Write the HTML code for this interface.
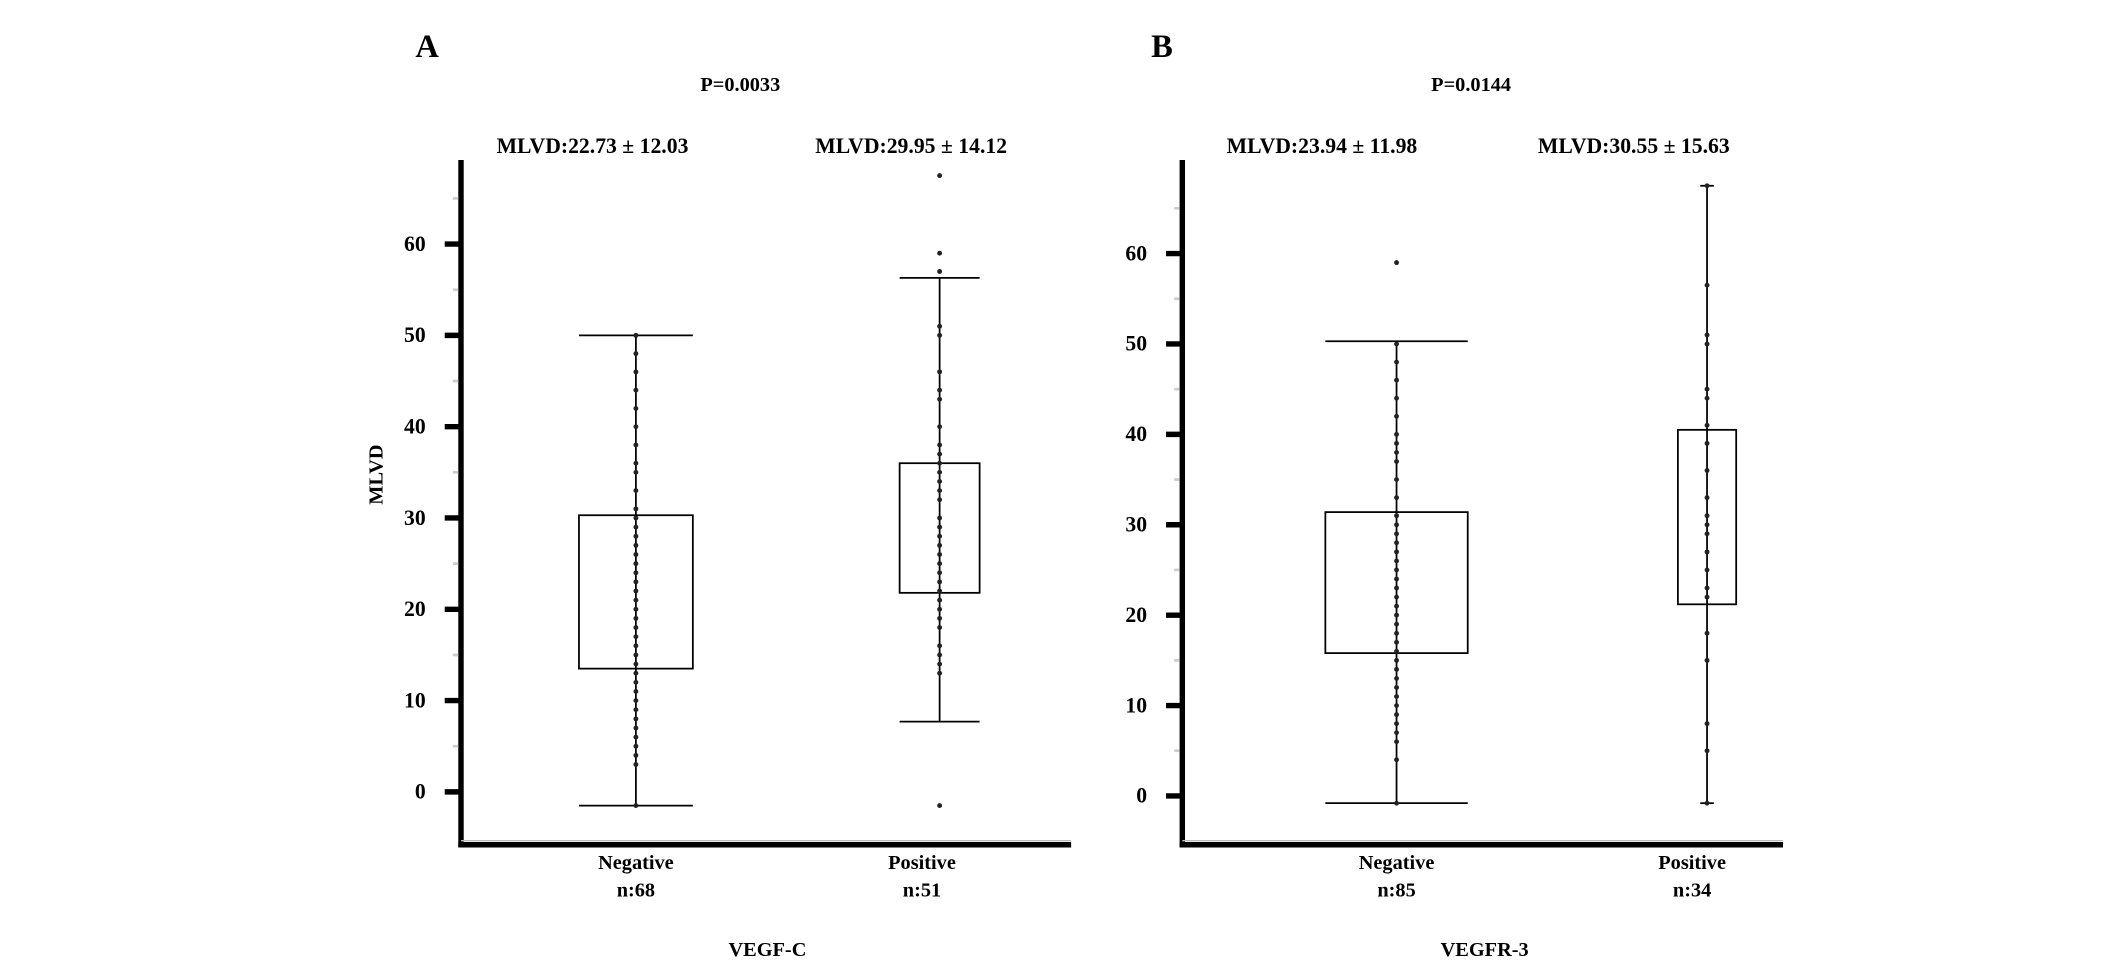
<!DOCTYPE html>
<html><head><meta charset="utf-8">
<style>
html,body{margin:0;padding:0;background:#fff;}
svg{display:block;}
text{font-family:"Liberation Serif",serif;font-weight:bold;fill:#000;}
</style></head>
<body>
<svg id="chart" width="2126" height="963" viewBox="0 0 1568 710.2" preserveAspectRatio="none" xmlns="http://www.w3.org/2000/svg"></svg>
<script>
// ---- data ----
const yTicks = [0, 10, 20, 30, 40, 50, 60];
const panelLetters = ["A", "B"];
const pValues = ["P=0.0033", "P=0.0144"];
const factorNames = ["VEGF-C", "VEGFR-3"];
const groupNames = ["Negative", "Positive"];
const groupCountsA = ["n:68", "n:51"];
const groupCountsB = ["n:85", "n:34"];
const meanLabelsA = ["MLVD:22.73 \u00b1 12.03", "MLVD:29.95 \u00b1 14.12"];
const meanLabelsB = ["MLVD:23.94 \u00b1 11.98", "MLVD:30.55 \u00b1 15.63"];
// box stats [whiskerLow, q1, q3, whiskerHigh]
const boxA_neg = [-1.5, 13.5, 30.3, 50];
const boxA_pos = [7.7, 21.8, 36, 56.3];
const boxB_neg = [-0.8, 15.8, 31.4, 50.3];
const boxB_pos = [-0.8, 21.2, 40.5, 67.5];
// observed points
const ptsA_neg = [50,48,46,44,42,40,38,36,35,33,31,30,29,28,27,26,25,24,23,22,21,20,19,18,17,16,15,14,13,12,11,10,9,8,7,6,5,4,3,-1.5];
const ptsA_pos = [67.5,59,57,51,50,46,44,43,40,38,37,36,35,34,33,32,30,29,28,27,26,25,24,23,22,21,20,19,18,16,15,14,13,-1.5];
const ptsB_neg = [59,50,48,46,44,42,40,39,38,37,35,33,31,30,29,28,27,26,25,24,23,22,21,20,19,18,17,16,15,14,13,12,11,10,9,8,7,6,4,-0.8];
const ptsB_pos = [67.5,56.5,51,50,45,44,41,39,36,33,31,30,29,27,25,23,22,18,15,8,5,-0.8];

const NS = "http://www.w3.org/2000/svg";
const svg = document.getElementById("chart");
function mk(tag, attrs, parent) {
  const e = document.createElementNS(NS, tag);
  for (const k in attrs) e.setAttribute(k, attrs[k]);
  (parent || svg).appendChild(e);
  return e;
}
function txt(str, x, y, size, anchor, parent) {
  const t = mk("text", {x: x, y: y, "font-size": size, "text-anchor": anchor || "middle"}, parent);
  t.textContent = str;
  return t;
}

const panels = [
  {axisX: 340, top: 118, bottom: 623, right: 790, y0: 584, y60: 180,
   centers: [469, 693], halfW: [42, 29.5], capHalf: [42, 29.5],
   boxes: [boxA_neg, boxA_pos], pts: [ptsA_neg, ptsA_pos],
   counts: groupCountsA, means: meanLabelsA, meanX: [437, 672], labelX: [469, 680],
   letterX: 315, pX: 546, factorX: 566, yTitle: true},
  {axisX: 872, top: 118, bottom: 623, right: 1315, y0: 587, y60: 187,
   centers: [1030, 1259], halfW: [52.5, 21.5], capHalf: [52.5, 5],
   boxes: [boxB_neg, boxB_pos], pts: [ptsB_neg, ptsB_pos],
   counts: groupCountsB, means: meanLabelsB, meanX: [975, 1205], labelX: [1030, 1248],
   letterX: 857, pX: 1085, factorX: 1095, yTitle: false}
];

panels.forEach((p, pi) => {
  const g = mk("g", {});
  
  
  const y = v => p.y0 - (v / 60) * (p.y0 - p.y60);

  const letter = txt(panelLetters[pi], p.letterX, 42, 24, "middle", g);
  
  
  const pv = txt(pValues[pi], p.pX, 67, 15, "middle", g);
  
  

  const ya = mk("line", {x1: p.axisX, y1: p.top, x2: p.axisX, y2: p.bottom + 2, stroke: "#000", "stroke-width": 4}, g);
  
  
  const xa = mk("line", {x1: p.axisX - 2, y1: p.bottom, x2: p.right, y2: p.bottom, stroke: "#000", "stroke-width": 4}, g);
  
  
  mk("line", {x1: p.axisX, y1: p.bottom - 3, x2: p.right, y2: p.bottom - 3, stroke: "#bbb", "stroke-width": 1}, g);

  yTicks.forEach(t => {
    const tk = mk("line", {x1: p.axisX - 12, y1: y(t), x2: p.axisX, y2: y(t), stroke: "#000", "stroke-width": 4}, g);
    
    
    const tl = txt(String(t), p.axisX - 26, y(t) + 5, 16, "end", g);
    
    
    mk("line", {x1: p.axisX - 6, y1: y(t + 5), x2: p.axisX - 2, y2: y(t + 5), stroke: "#ccc", "stroke-width": 2}, g);
  });

  if (p.yTitle) {
    const yt = mk("text", {x: 0, y: 0, "font-size": 15, "text-anchor": "middle", transform: "translate(282,350) rotate(-90)"}, g);
    yt.textContent = "MLVD";
    
    
  }

  [0, 1].forEach(gi => {
    const b = p.boxes[gi], cx = p.centers[gi], hw = p.halfW[gi], ch = p.capHalf[gi];
    const bg = mk("g", {}, g);
    
    
    mk("line", {x1: cx, y1: y(b[0]), x2: cx, y2: y(b[3]), stroke: "#000", "stroke-width": 1.3}, bg);
    mk("line", {x1: cx - ch, y1: y(b[0]), x2: cx + ch, y2: y(b[0]), stroke: "#000", "stroke-width": 1.3}, bg);
    mk("line", {x1: cx - ch, y1: y(b[3]), x2: cx + ch, y2: y(b[3]), stroke: "#000", "stroke-width": 1.3}, bg);
    mk("rect", {x: cx - hw, y: y(b[2]), width: 2 * hw, height: y(b[1]) - y(b[2]), fill: "none", stroke: "#000", "stroke-width": 1.3}, bg);
    p.pts[gi].forEach(v => {
      const c = mk("circle", {cx: cx, cy: y(v), r: 1.8, fill: "#222"}, bg);
      
      
    });

    const ml = txt(p.means[gi], p.meanX[gi], 113, 16, "middle", g);
    
    
    const gl = txt(groupNames[gi], p.labelX[gi], 641, 15, "middle", g);
    
    
    const nl = txt(p.counts[gi], p.labelX[gi], 661, 15, "middle", g);
    
    
  });

  const fl = txt(factorNames[pi], p.factorX, 705, 15, "middle", g);
  
  
});
</script>
</body></html>
